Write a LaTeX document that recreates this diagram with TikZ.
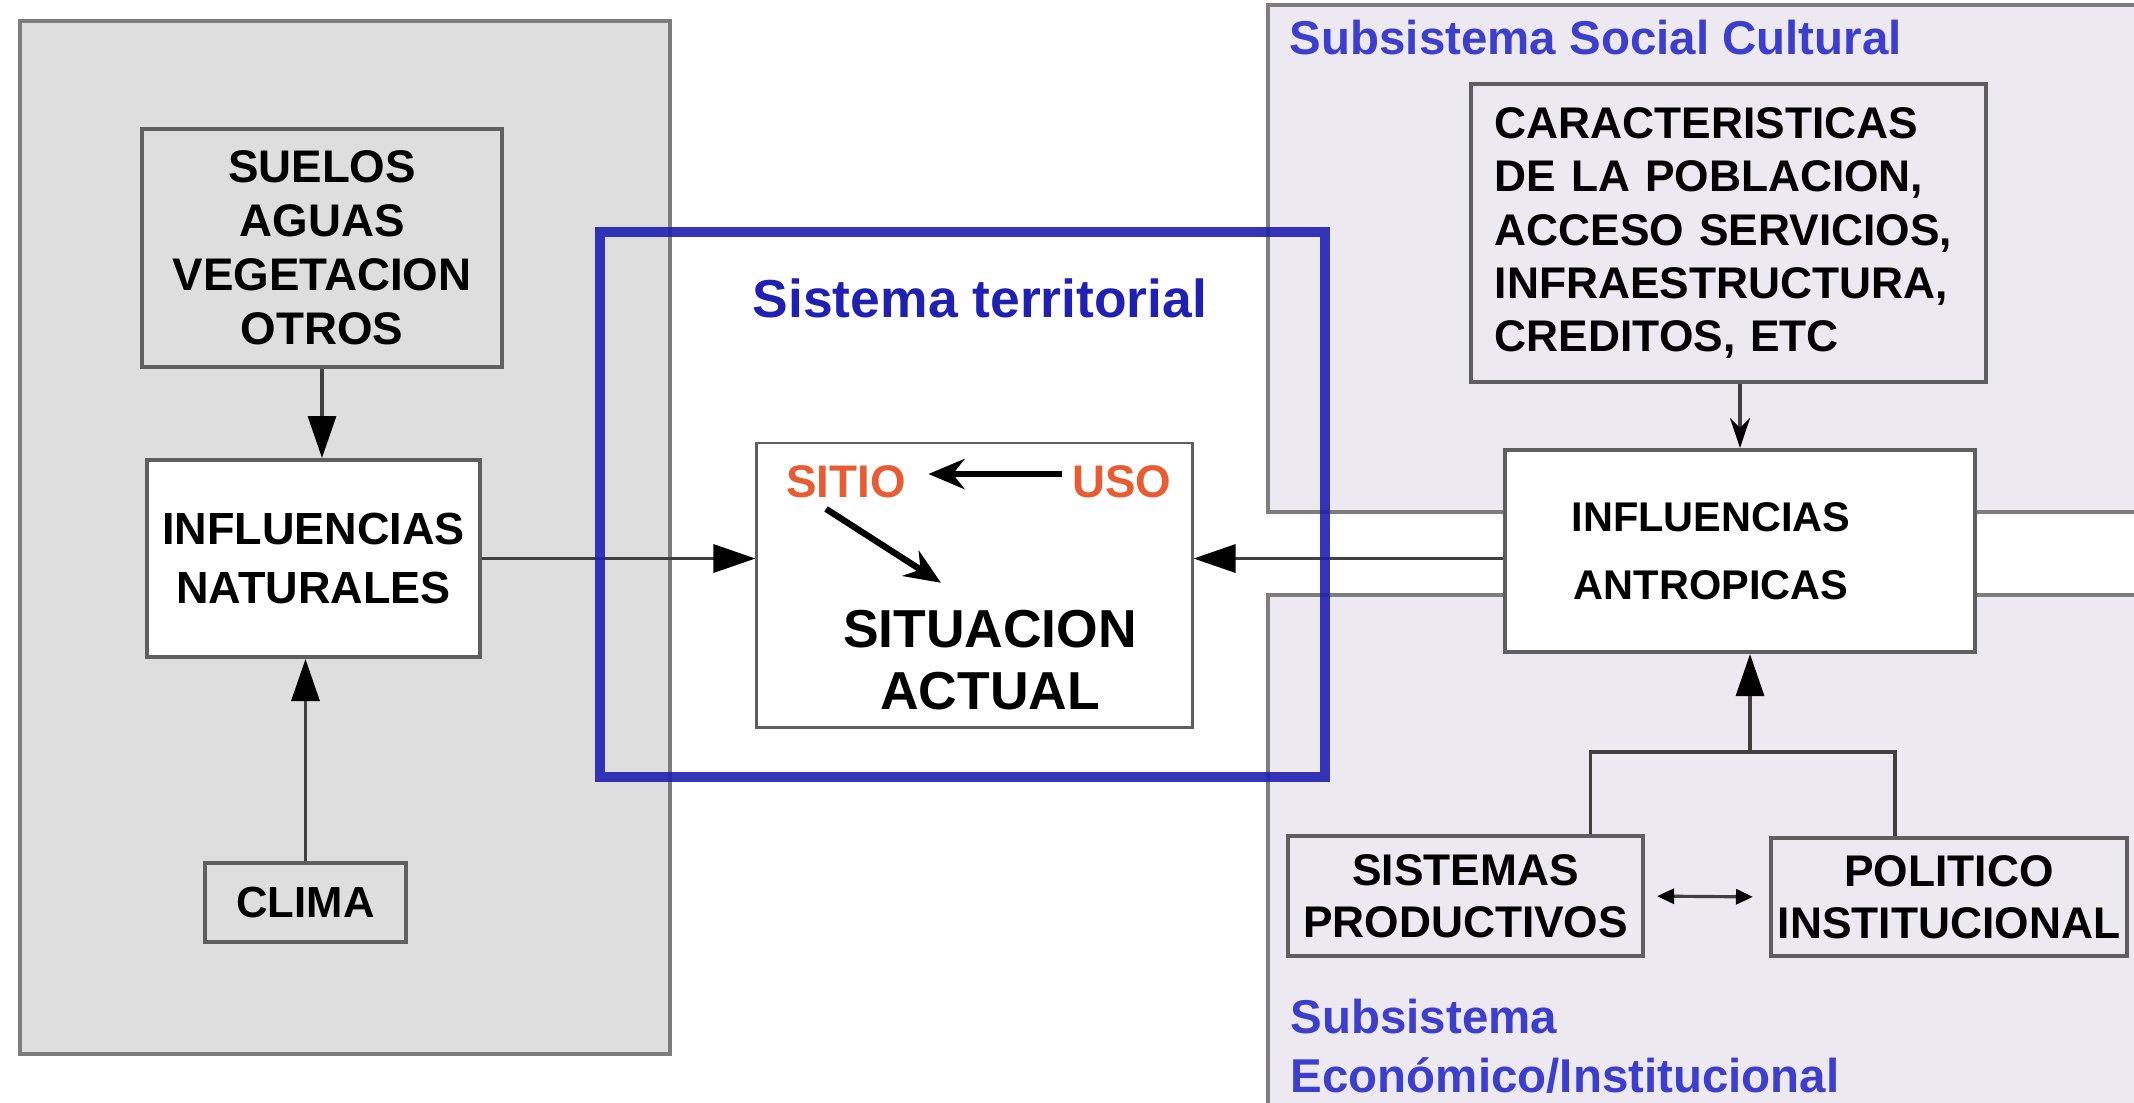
\documentclass[tikz,border=0pt]{standalone}
\usepackage{fontspec}
\setmainfont{Liberation Sans}
\usetikzlibrary{arrows.meta,positioning,calc}
\definecolor{panelgray}{RGB}{222,222,222}
\definecolor{panellilac}{RGB}{237,233,241}
\definecolor{framegray}{RGB}{125,125,125}
\definecolor{boxgray}{RGB}{95,95,95}
\definecolor{sysblue}{RGB}{32,32,178}
\definecolor{titleblue}{RGB}{62,62,205}
\definecolor{usored}{RGB}{232,92,52}

\begin{document}
\begin{tikzpicture}[x=0.01cm, y=-0.01cm,
    panel/.style={draw=framegray, line width=1.3pt},
    box/.style={draw=boxgray, line width=1.1pt, align=center, inner sep=0pt,
        font=\fontsize{13}{15.4}\selectfont\bfseries},
    conn/.style={draw=black!75, line width=0.9pt},
    bigarrow/.style={-{Triangle[length=0.42cm, width=0.28cm, color=black]}},
    smallarrow/.style={-{Stealth[length=0.3cm, width=0.2cm, color=black]}},
    tinyarrows/.style={{Triangle[length=0.17cm, width=0.15cm, color=black]}-{Triangle[length=0.17cm, width=0.15cm, color=black]}},
    usotext/.style={text=usored, inner sep=0.1cm, font=\fontsize{13}{15}\selectfont\bfseries},
    subtitle/.style={text=titleblue, inner sep=0pt, align=left, font=\fontsize{13.5}{17}\selectfont\bfseries}]

    \useasboundingbox (0,0) rectangle (2134,1102);
    \clip (0,0) rectangle (2134,1102);
    \fill[white] (0,0) rectangle (2134,1102);

    % Panels
    \draw[panel, fill=panelgray] (20,21) rectangle (670,1054);
    \draw[panel, fill=panellilac] (1268,5) rectangle (2160,512);
    \draw[panel, fill=panellilac] (1268,595) rectangle (2160,1120);
    \node[subtitle, anchor=west] (sctitle) at (1289,38) {Subsistema Social Cultural};
    \node[subtitle, anchor=north west] (ectitle) at (1290,998) {Subsistema\\Económico/Institucional};

    % Natural side
    \node[box, fill=panelgray, minimum width=3.60cm, minimum height=2.38cm] (suelos) at (322,248) {SUELOS\\AGUAS\\VEGETACION\\OTROS};
    \node[box, fill=white, minimum width=3.33cm, minimum height=1.97cm, font=\fontsize{12.8}{17}\selectfont\bfseries] (natural) at (313.5,558.5) {INFLUENCIAS\\NATURALES};
    \node[box, fill=panelgray, minimum width=2.01cm, minimum height=0.79cm, font=\fontsize{12.4}{15}\selectfont\bfseries] (clima) at (305.5,902.5) {CLIMA};

    % Territorial system
    \node[text=sysblue, font=\fontsize{15.2}{18}\selectfont\bfseries] (systitle) at (980,298) {Sistema territorial};
    \node[box, line width=0.8pt, fill=white, minimum width=4.35cm, minimum height=2.84cm] (sitbox) at (974.5,585) {};
    \node[usotext] (sitio) at (846,482) {SITIO};
    \node[usotext] (uso) at (1122,482) {USO};
    \node[inner sep=0pt, align=center, font=\fontsize{15.2}{17.4}\selectfont\bfseries] (actual) at (990,660) {SITUACION\\ACTUAL};

    % Anthropic side
    \node[box, fill=panellilac, text width=4.67cm, inner xsep=0.24cm, align=left, minimum height=2.98cm, font=\fontsize{12.6}{15.2}\selectfont\bfseries] (carac) at (1728.5,233) {CARACTERISTICAS\\DE LA POBLACION,\\ACCESO SERVICIOS,\\INFRAESTRUCTURA,\\CREDITOS, ETC};
    \node[box, fill=white, minimum width=4.70cm, minimum height=2.02cm] (antrop) at (1740,551) {};
    \node[inner sep=0pt, align=center, font=\fontsize{11.8}{19.3}\selectfont\bfseries] (antroplbl) at ([xshift=-0.29cm]antrop.center) {INFLUENCIAS\\ANTROPICAS};
    \node[box, fill=panellilac, minimum width=3.55cm, minimum height=1.20cm, font=\fontsize{12.6}{14.8}\selectfont\bfseries] (sistemas) at (1465.5,896) {SISTEMAS\\PRODUCTIVOS};
    \node[box, fill=panellilac, minimum width=3.56cm, minimum height=1.18cm, font=\fontsize{12.6}{14.8}\selectfont\bfseries] (politico) at (1949,897) {POLITICO\\INSTITUCIONAL};
    \coordinate (junc) at (1750,752);

    % Connections
    \draw[conn, bigarrow] (suelos.south) -- (suelos.south |- natural.north);
    \draw[conn, bigarrow] (clima.north) -- (clima.north |- natural.south);
    \draw[conn, bigarrow] (natural.east) -- (natural.east -| sitbox.west);
    \draw[conn, bigarrow] (antrop.west |- natural.east) -- (sitbox.east |- natural.east);
    \draw[conn, smallarrow] (carac.south -| antrop.north) -- (antrop.north);
    \draw[conn] ([xshift=1.25cm]sistemas.north) |- (junc) -| ([xshift=-0.54cm]politico.north);
    \draw[conn, bigarrow] (junc) -- (junc |- antrop.south);
    \draw[conn, tinyarrows, shorten <=0.12cm, shorten >=0.16cm] (sistemas.east) -- (politico.west);

    \draw[black, line width=1.8pt, -{Stealth[length=0.36cm, width=0.3cm]}, shorten >=0.12cm] ([yshift=0.08cm]uso.west) -- ([yshift=0.08cm]sitio.east);
    \draw[black, line width=1.8pt, -{Stealth[length=0.36cm, width=0.3cm]}] ([xshift=-0.2cm]sitio.south) -- ([xshift=-0.49cm, yshift=0.27cm]actual.north);

    % Frame
    \node[draw=sysblue, draw opacity=0.9, line width=2.8pt, minimum width=7.25cm, minimum height=5.45cm] (sistema) at (962.5,504.5) {};

\end{tikzpicture}
\end{document}
